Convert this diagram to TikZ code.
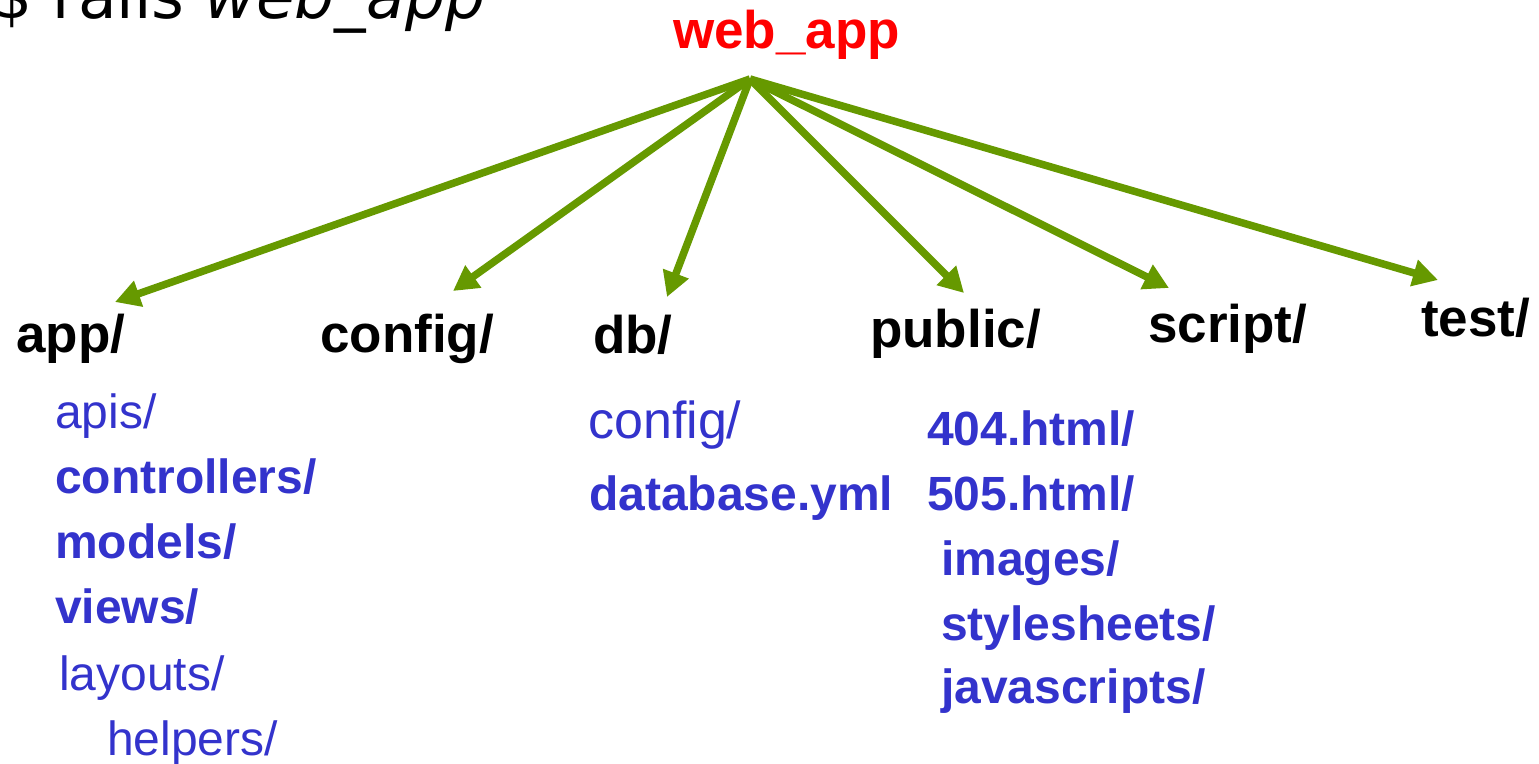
\documentclass[tikz,border=0pt]{standalone}
\usepackage{fontspec}
\setmainfont{Liberation Sans}
\newfontfamily\dejavu{DejaVu Sans}
\usetikzlibrary{arrows.meta}
\definecolor{arrowgreen}{HTML}{669900}
\definecolor{itemblue}{HTML}{3333CC}
\begin{document}
\begin{tikzpicture}[x=1pt,y=-1pt,
  lbl/.style={inner sep=0pt, anchor=base west},
  head/.style={lbl, font=\fontsize{53}{53}\selectfont\bfseries},
  itemb/.style={lbl, text=itemblue, font=\fontsize{48}{48}\selectfont\bfseries},
  itemr/.style={lbl, text=itemblue, font=\fontsize{48}{48}\selectfont},
  link/.style={draw=arrowgreen, line width=7.5pt, -{Triangle[length=25pt,width=26pt]}}]
\useasboundingbox (0,0) rectangle (1539,763);

% command line
\node[lbl, font=\dejavu\fontsize{63}{63}\selectfont] (cmd) at (-8,18) {\$ rails \textit{web\_app}};

% root
\node[head, text=red] (root) at (673,48) {web\_app};
\coordinate (src) at (750,79);

% headings
\node[head] (app) at (16,352) {app/};
\node[head] (config) at (320,352) {config/};
\node[head] (db) at (593,353) {db/};
\node[head] (public) at (870,347) {public/};
\node[head] (script) at (1148,342) {script/};
\node[head] (test) at (1421,336) {test/};

% arrow tips
\coordinate (tapp) at (115,302);
\coordinate (tconfig) at (453,291);
\coordinate (tdb) at (667,297);
\coordinate (tpublic) at (964,293);
\coordinate (tscript) at (1169,288);
\coordinate (ttest) at (1438,280);

\draw[link] (src) -- (tapp);
\draw[link] (src) -- (tconfig);
\draw[link] (src) -- (tdb);
\draw[link] (src) -- (tpublic);
\draw[link] (src) -- (tscript);
\draw[link] (src) -- (ttest);

% app/ contents
\node[itemr] (apis) at (55,428) {apis/};
\node[itemb] (controllers) at (55,493) {controllers/};
\node[itemb] (models) at (55,558) {models/};
\node[itemb] (views) at (55,623) {views/};
\node[itemr] (layouts) at (59,690) {layouts/};
\node[itemr] (helpers) at (107,755) {helpers/};

% db/ contents
\node[itemr, font=\fontsize{52}{52}\selectfont] (dbconfig) at (588,438) {config/};
\node[itemb] (database) at (589,510) {database.yml};

% public/ contents
\node[itemb] (e404) at (927,445) {404.html/};
\node[itemb] (e505) at (927,510) {505.html/};
\node[itemb] (images) at (941,575) {images/};
\node[itemb] (styles) at (941,640) {stylesheets/};
\node[itemb] (js) at (941,703) {javascripts/};
\end{tikzpicture}
\end{document}
